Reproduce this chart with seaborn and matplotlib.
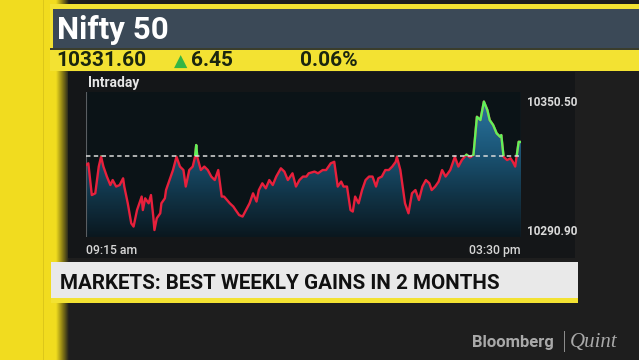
import numpy as np
import pandas as pd
import matplotlib
matplotlib.use("Agg")
import matplotlib.pyplot as plt
import seaborn as sns
from matplotlib.patches import Rectangle
from matplotlib.colors import LinearSegmentedColormap

# ---------------- data ----------------
index_name = "Nifty 50"
last_price = "10331.60"
change = "6.45"
change_pct = "0.06%"
prev_close = 10325.15
day_high = 10350.50
day_low = 10290.90
headline = "MARKETS: BEST WEEKLY GAINS IN 2 MONTHS"
panel_title = "Intraday"
time_labels = ["09:15 am", "03:30 pm"]
session_minutes = 375

minutes = [0, 2, 5, 8, 11, 13, 15, 18, 21, 23, 26, 29, 32, 33, 36, 39, 41, 44, 46, 48,
           49, 51, 54, 56, 58, 59, 61, 64, 65, 68, 69, 72, 75, 78, 81, 84, 86, 89, 92, 94,
           95, 96, 99, 102, 105, 108, 111, 114, 117, 119, 124, 127, 129, 132, 135, 138, 141, 144, 147, 149,
           152, 155, 158, 161, 164, 168, 171, 174, 178, 181, 184, 187, 190, 192, 197, 200, 204, 207, 211, 214,
           217, 220, 222, 225, 228, 230, 232, 235, 238, 241, 244, 247, 250, 252, 255, 258, 261, 264, 267, 268,
           271, 273, 275, 278, 281, 284, 287, 290, 293, 296, 298, 301, 304, 307, 310, 314, 318, 321, 324, 328,
           331, 334, 337, 340, 343, 346, 348, 351, 354, 357, 358, 360, 363, 366, 368, 370, 371, 373, 375]
prices = [10321.0, 10321.8, 10307.2, 10308.0, 10320.3, 10324.9, 10320.3, 10315.7, 10311.8, 10314.1,
          10311.1, 10311.8, 10314.9, 10311.1, 10303.4, 10294.2, 10292.7, 10300.3, 10303.4, 10306.5,
          10300.3, 10305.7, 10303.4, 10307.2, 10297.3, 10291.1, 10296.5, 10298.8, 10303.4, 10305.7,
          10309.5, 10314.1, 10318.7, 10324.8, 10320.3, 10318.7, 10311.1, 10318.7, 10320.3, 10324.8,
          10330.2, 10324.5, 10318.7, 10320.3, 10318.7, 10315.7, 10314.1, 10318.7, 10306.5, 10306.5,
          10303.4, 10301.9, 10300.3, 10298.0, 10297.3, 10300.3, 10303.4, 10308.0, 10304.2, 10309.5,
          10312.6, 10310.3, 10314.1, 10311.8, 10315.7, 10319.5, 10318.0, 10314.1, 10317.2, 10311.1,
          10314.1, 10315.7, 10315.7, 10317.2, 10318.0, 10317.2, 10318.7, 10318.7, 10321.8, 10322.5,
          10311.1, 10313.4, 10311.1, 10311.1, 10300.3, 10299.6, 10306.5, 10303.4, 10309.5, 10314.1,
          10315.7, 10315.7, 10311.1, 10314.9, 10315.7, 10318.7, 10318.7, 10320.3, 10322.5, 10324.8,
          10318.7, 10311.1, 10303.4, 10298.8, 10308.0, 10309.5, 10304.9, 10311.1, 10314.1, 10312.6,
          10309.5, 10311.1, 10313.4, 10318.7, 10315.7, 10318.7, 10324.8, 10320.3, 10323.3, 10325.8,
          10324.5, 10325.6, 10343.2, 10341.7, 10350.2, 10346.3, 10341.7, 10339.4, 10335.6, 10334.0,
          10334.8, 10324.8, 10323.3, 10324.1, 10322.5, 10320.3, 10324.1, 10331.7, 10331.6]

# ---------------- style ----------------
plt.rcParams['font.family'] = ['Roboto', 'DejaVu Sans']

W, H = 639, 360
fig = plt.figure(figsize=(W / 100, H / 100), dpi=100)
fig.patch.set_facecolor('#1e1e1e')

bg = fig.add_axes([0, 0, 1, 1], zorder=0)
bg.axis('off')

YELLOW = '#f3e232'
STRIPE = '#f1dc1f'


def rect(x0, y0, x1, y1, c, z=1):
    bg.add_patch(Rectangle((x0, y0), x1 - x0, y1 - y0, facecolor=c,
                           edgecolor='none', zorder=z))


# left yellow stripe with a soft shadow
rect(0, 0, 57, H, STRIPE)
rect(42.5, 0, 44, H, '#dcc71a', 2)
shadow = LinearSegmentedColormap.from_list('sh', [STRIPE, '#8a7d14', '#1e1e1e'])
bg.imshow(np.linspace(0, 1, 64)[None, :], extent=(56, 69, H, 0), cmap=shadow,
          aspect='auto', zorder=1, interpolation='bilinear')

# chart panel
rect(68, 72, 575, 258, '#141618', 2)

# header box
rect(50, 4, W, 71, YELLOW, 3)
rect(53, 9, W, 48, '#3b4957', 4)
rect(50, 48, W, 49.5, '#3a3d2c', 4)

# headline bar
rect(51, 262, 578, 298, '#e9e9e9', 3)
rect(51, 298, 578, 303, YELLOW, 3)

# separator in logo
rect(563.5, 331, 564.5, 352, '#8c8c8c', 3)

bg.set_xlim(0, W)
bg.set_ylim(H, 0)

# header texts
bg.text(57, 38.8, index_name, color='white', fontsize=22.5, fontweight='bold',
        va='baseline', ha='left', zorder=5)
txt_dark = '#1a260f'
bg.text(56, 66.5, last_price, color=txt_dark, fontsize=15, fontweight='bold',
        va='baseline', ha='left', zorder=5)
bg.text(174, 66.5, '▲', color='#34b545', fontsize=12.5, family='DejaVu Sans',
        va='baseline', ha='left', zorder=5)
bg.text(191, 66.5, change, color=txt_dark, fontsize=15, fontweight='bold',
        va='baseline', ha='left', zorder=5)
bg.text(300, 66.5, change_pct, color=txt_dark, fontsize=15, fontweight='bold',
        va='baseline', ha='left', zorder=5)

bg.text(88, 86.5, panel_title, color='#e6e6e6', fontsize=10, fontweight='bold',
        va='baseline', ha='left', zorder=5)

bg.text(60, 289, headline, color='#111111', fontsize=14.9, fontweight='bold',
        va='baseline', ha='left', zorder=5)

bg.text(472, 346.5, 'Bloomberg', color='#a9a9a9', fontsize=12, fontweight='bold',
        va='baseline', ha='left', zorder=5)
bg.text(570, 346.5, 'Quint', color='#a9a9a9', fontsize=15, style='italic',
        family='Liberation Serif', va='baseline', ha='left', zorder=5)

# ---------------- chart ----------------
x0, x1, y0, y1 = 86, 521, 92, 237
ax = fig.add_axes([x0 / W, 1 - y1 / H, (x1 - x0) / W, (y1 - y0) / H], zorder=3)
ax.set_facecolor('#0b1317')

ylo, yhi = 10287.9, 10354.6
df = pd.DataFrame({'minute': minutes, 'price': prices})

# gradient fill under the curve
poly = ax.fill_between(df['minute'], df['price'], ylo, facecolor='none', edgecolor='none')
fill_cmap = LinearSegmentedColormap.from_list(
    'fill', [(0.0, '#0a171e'), (0.3, '#113549'), (0.62, '#1c587a'), (1.0, '#2d7aa6')])
img = ax.imshow(np.linspace(1, 0, 256)[:, None], extent=(0, session_minutes, ylo, yhi),
                origin='upper', aspect='auto', cmap=fill_cmap, zorder=1,
                interpolation='bilinear')
img.set_clip_path(poly.get_paths()[0], ax.transData)

# red line (below previous close) and green line (above it)
sns.lineplot(data=df, x='minute', y='price', ax=ax, color='#e8203c', linewidth=1.7,
             zorder=3, estimator=None)
sns.lineplot(data=df, x='minute', y='price', ax=ax, color='#5ff25a', linewidth=1.7,
             zorder=4, estimator=None)
green = ax.lines[-1]
green.set_clip_path(Rectangle((0, prev_close), session_minutes, 200,
                              transform=ax.transData))

ax.axhline(prev_close, color='#dcdcdc', linewidth=1.1, linestyle=(0, (2.9, 2.2)), zorder=5)
ax.axvline(0, color='#5a5e62', linewidth=0.8, zorder=2)
ax.axvline(session_minutes, color='#5a5e62', linewidth=0.8, zorder=2)

ax.set_xlim(0, session_minutes)
ax.set_ylim(ylo, yhi)
for s in ax.spines.values():
    s.set_visible(False)

ax.yaxis.tick_right()
ax.set_yticks([day_low, day_high])
ax.set_yticklabels([f'{day_low:.2f}', f'{day_high:.2f}'])
ax.tick_params(axis='y', length=0, pad=4.5, labelsize=8.5, labelcolor='#dadada')
for t in ax.get_yticklabels():
    t.set_fontweight('bold')

ax.set_xticks([0, session_minutes])
ax.set_xticklabels(time_labels)
ax.tick_params(axis='x', length=0, pad=5, labelsize=8.8, labelcolor='#d6d6d6')
xl = ax.get_xticklabels()
xl[0].set_ha('left')
xl[1].set_ha('right')
for t in xl:
    t.set_fontweight('medium')
ax.set_xlabel('')
ax.set_ylabel('')

fig.savefig('out.png', dpi=100, facecolor=fig.get_facecolor())
